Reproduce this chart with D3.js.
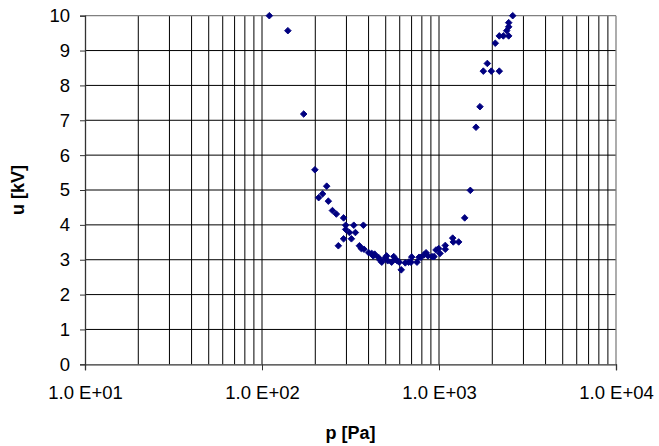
<!DOCTYPE html>
<html>
<head>
<meta charset="utf-8">
<script src="https://cdn.jsdelivr.net/npm/d3@7"></script>
<style>
  html, body { margin: 0; padding: 0; background: #fff; }
  svg { display: block; font-family: "Liberation Sans", Arial, sans-serif; }
</style>
</head>
<body>
<svg id="chart" width="659" height="446"></svg>
<script>
// Pressure p [Pa]
const pValues = [
  110, 140, 172, 199, 232, 220, 209, 237, 250, 263,
  289, 297, 330, 374, 297, 312, 337, 289, 320, 270,
  355, 364, 377, 401, 417, 425, 433, 454, 464, 475,
  495, 506, 513, 540, 555, 566, 581, 596, 612, 645,
  674, 695, 701, 751, 771, 791, 823, 845, 867, 913,
  937, 962, 996, 1013, 1085, 1085, 1195, 1204, 1292, 1397,
  1503, 1618, 1704, 1780, 1875, 1975, 2191, 2080, 2191, 2309,
  2476, 2413, 2476, 2476, 2609
];
// Voltage u [kV]
const uValues = [
  10.0, 9.57, 7.18, 5.58, 5.11, 4.89, 4.78, 4.68, 4.41, 4.31,
  4.20, 3.99, 3.99, 3.99, 3.87, 3.78, 3.78, 3.60, 3.60, 3.40,
  3.40, 3.32, 3.30, 3.20, 3.18, 3.11, 3.16, 3.07, 2.99, 2.93,
  3.05, 3.11, 2.97, 2.93, 3.09, 3.01, 2.97, 2.93, 2.71, 2.91,
  2.93, 2.93, 3.08, 2.93, 3.07, 3.07, 3.14, 3.20, 3.11, 3.09,
  3.09, 3.28, 3.32, 3.18, 3.41, 3.30, 3.62, 3.51, 3.51, 4.20,
  4.99, 6.80, 7.39, 8.41, 8.63, 8.41, 8.41, 9.21, 9.42, 9.42,
  9.42, 9.57, 9.68, 9.80, 10.0
];
const yTicks = [0, 1, 2, 3, 4, 5, 6, 7, 8, 9, 10];
const xDecades = [10, 100, 1000, 10000];
const xTickLabels = ["1.0 E+01", "1.0 E+02", "1.0 E+03", "1.0 E+04"];
const xTitle = "p [Pa]";
const yTitle = "u [kV]";

const svg = d3.select("#chart");
const mLeft = 85, mRight = 616, mTop = 15.7, mBottom = 364.3;

const x = d3.scaleLog().domain([10, 10000]).range([mLeft, mRight]);
const y = d3.scaleLinear().domain([0, 10]).range([mBottom, mTop]);

// minor grid values (1..9 of each decade)
const gridX = [];
for (let d = 10; d < 10000; d *= 10) {
  for (let k = 1; k <= 9; k++) gridX.push(d * k);
}

const g = svg.append("g");

// vertical gridlines
g.selectAll("line.vg").data(gridX.filter(v => v > 10)).enter().append("line")
  .attr("x1", d => x(d)).attr("x2", d => x(d))
  .attr("y1", mTop).attr("y2", mBottom)
  .attr("stroke", "#000").attr("stroke-width", 1);

// horizontal gridlines
g.selectAll("line.hg").data(yTicks.filter(v => v > 0 && v < 10)).enter().append("line")
  .attr("x1", mLeft).attr("x2", mRight)
  .attr("y1", d => y(d)).attr("y2", d => y(d))
  .attr("stroke", "#000").attr("stroke-width", 1);

// plot border (top, right)
g.append("line").attr("x1", mLeft).attr("x2", mRight).attr("y1", y(10)).attr("y2", y(10))
  .attr("stroke", "#808080").attr("stroke-width", 1.3);
g.append("line").attr("x1", x(10000)).attr("x2", x(10000)).attr("y1", mTop).attr("y2", mBottom)
  .attr("stroke", "#808080").attr("stroke-width", 1.3);

// y axis
const yAxis = d3.axisLeft(y).tickValues(yTicks).tickSize(5).tickPadding(10)
  .tickFormat(d3.format("d"));
const ya = svg.append("g").attr("transform", `translate(${mLeft},0)`).call(yAxis);
ya.select(".domain").attr("stroke", "#333").attr("stroke-width", 1.3);
ya.selectAll(".tick line").attr("stroke", "#333");
ya.selectAll("text").attr("font-size", 18.5).attr("fill", "#000")
  .attr("font-family", "Liberation Sans, Arial, sans-serif");

// x axis
const xAxis = d3.axisBottom(x).tickValues(xDecades).tickSize(6).tickPadding(16)
  .tickFormat((d, i) => xTickLabels[i]);
const xa = svg.append("g").attr("transform", `translate(0,${mBottom})`).call(xAxis);
xa.select(".domain").attr("stroke", "#333").attr("stroke-width", 1.3);
xa.selectAll(".tick line").attr("stroke", "#333");
xa.selectAll("text").attr("font-size", 18.5).attr("fill", "#000")
  .attr("font-family", "Liberation Sans, Arial, sans-serif");

// axis titles
svg.append("text").attr("x", (mLeft + mRight) / 2).attr("y", 439)
  .attr("text-anchor", "middle").attr("font-weight", "bold").attr("font-size", 18)
  .text(xTitle);
svg.append("text").attr("transform", `translate(24,${(mTop + mBottom) / 2}) rotate(-90)`)
  .attr("text-anchor", "middle").attr("font-weight", "bold").attr("font-size", 18)
  .text(yTitle);

// markers
const diamond = "M0,-3.3L3.3,0L0,3.3L-3.3,0Z";
svg.append("g").selectAll("path").data(pValues.map((p, i) => [p, uValues[i]])).enter()
  .append("path")
  .attr("d", diamond)
  .attr("transform", d => `translate(${x(d[0])},${y(d[1])})`)
  .attr("fill", "#000080").attr("stroke", "#000080").attr("stroke-width", 0.9);
</script>
</body>
</html>
